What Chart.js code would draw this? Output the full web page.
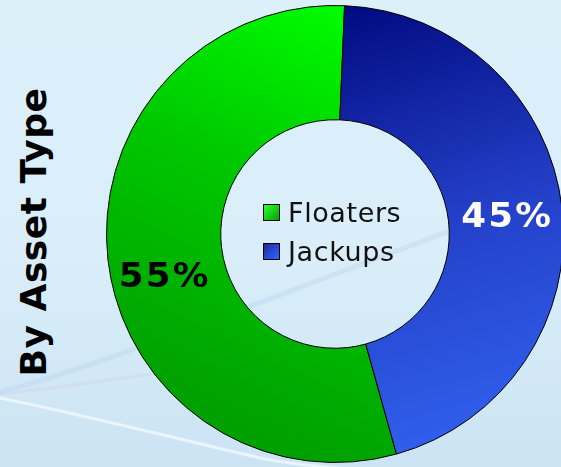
<!DOCTYPE html>
<html>
<head>
<meta charset="utf-8">
<script src="https://cdn.jsdelivr.net/npm/chart.js@4.4.1/dist/chart.umd.min.js"></script>
<style>
  html, body {
    margin: 0;
    padding: 0;
    width: 561px;
    height: 467px;
    overflow: hidden;
  }
  body {
    position: relative;
    background: linear-gradient(180deg, #dcf0fa 0%, #d9eef9 55%, #cbe3f3 100%);
    font-family: 'DejaVu Sans', Verdana, sans-serif;
  }
  #swoosh {
    position: absolute;
    left: 0;
    top: 0;
  }
  #title {
    position: absolute;
    left: 33px;
    top: 232px;
    transform: translate(-50%, -50%) rotate(-90deg);
    white-space: nowrap;
    font-weight: bold;
    font-size: 36px;
    letter-spacing: 0.5px;
    color: #000;
  }
  #chartBox {
    position: absolute;
    left: 106px;
    top: 5px;
    width: 458px;
    height: 458px;
  }
  #legend {
    position: absolute;
    left: 263px;
    top: 193px;
    font-size: 27px;
    letter-spacing: 0.6px;
    color: #111;
  }
  #legend .item {
    display: flex;
    align-items: center;
    height: 39px;
  }
  #legend .box {
    width: 15px;
    height: 15px;
    border: 1px solid #000;
    margin-right: 8px;
  }
</style>
</head>
<body>
<svg id="swoosh" width="561" height="467">
  <path d="M0,392 C120,360 260,300 561,190" stroke="#bcd6ee" stroke-width="5" fill="none" opacity="0.45"/>
  <path d="M0,398 C70,412 150,432 260,458 C330,472 450,475 561,470" stroke="#eef8ff" stroke-width="3" fill="none" opacity="0.85"/>
  <path d="M0,394 C60,388 120,378 200,368" stroke="#cfcfee" stroke-width="3" fill="none" opacity="0.35"/>
</svg>
<div id="title">By Asset Type</div>
<div id="chartBox"><canvas id="assetChart"></canvas></div>
<div id="legend"></div>

<script>
// Fleet split by asset type (percent)
const assetTypes = ['Floaters', 'Jackups'];
const assetShares = [55, 45];
const shareLabels = ['55%', '45%'];

const labelColors = ['#000000', '#ffffff'];
const legendFills = [
    'linear-gradient(135deg, #33ff33, #00a000)',
    'linear-gradient(135deg, #1a2a9a, #3366ff)'
];

function segmentFill(context) {
    const chart = context.chart;
    const area = chart.chartArea;
    if (!area) return null;
    const ctx = chart.ctx;
    const cx = (area.left + area.right) / 2;
    const cy = (area.top + area.bottom) / 2;
    const r = (area.right - area.left) / 2;
    let g;
    if (context.dataIndex === 0) {
        g = ctx.createLinearGradient(cx + r * 0.1, cy - r, cx - r * 0.7, cy + r * 0.7);
        g.addColorStop(0, '#00ff00');
        g.addColorStop(0.45, '#00c800');
        g.addColorStop(1, '#00a000');
    } else {
        g = ctx.createLinearGradient(cx, cy - r, cx + r * 0.6, cy + r);
        g.addColorStop(0, '#000a80');
        g.addColorStop(0.5, '#2440c8');
        g.addColorStop(1, '#3163f0');
    }
    return g;
}

// draws the percentage in each ring segment
const shareLabelPlugin = {
    id: 'shareLabels',
    afterDatasetsDraw(chart, args, opts) {
        const ctx = chart.ctx;
        const meta = chart.getDatasetMeta(0);
        meta.data.forEach(function(arc, i) {
            const pos = arc.tooltipPosition();
            const off = opts.offsets[i] || [0, 0];
            ctx.save();
            ctx.translate(pos.x + off[0], pos.y + off[1]);
            ctx.scale(1.08, 1);
            ctx.font = 'bold 33px "DejaVu Sans"';
            if ('letterSpacing' in ctx) ctx.letterSpacing = '2px';
            ctx.fillStyle = labelColors[i];
            ctx.textAlign = 'center';
            ctx.textBaseline = 'middle';
            ctx.fillText(shareLabels[i], 0, 0);
            ctx.restore();
        });
    }
};

document.addEventListener('DOMContentLoaded', function() {
    const ctx = document.getElementById('assetChart').getContext('2d');
    new Chart(ctx, {
        type: 'doughnut',
        data: {
            labels: assetTypes,
            datasets: [{
                data: assetShares,
                backgroundColor: segmentFill,
                borderColor: '#000000',
                borderWidth: 1
            }]
        },
        options: {
            responsive: true,
            maintainAspectRatio: false,
            animation: false,
            cutout: '50%',
            rotation: 164.4,
            layout: { padding: 0 },
            plugins: {
                legend: { display: false },
                tooltip: { enabled: false },
                shareLabels: {
                    offsets: [[0, 25], [2, 4]]
                }
            }
        },
        plugins: [shareLabelPlugin]
    });

    // legend inside the ring hole
    const legend = document.getElementById('legend');
    assetTypes.forEach(function(name, i) {
        const item = document.createElement('div');
        item.className = 'item';
        const box = document.createElement('span');
        box.className = 'box';
        box.style.background = legendFills[i];
        const text = document.createElement('span');
        text.textContent = name;
        item.appendChild(box);
        item.appendChild(text);
        legend.appendChild(item);
    });
});
</script>
</body>
</html>
